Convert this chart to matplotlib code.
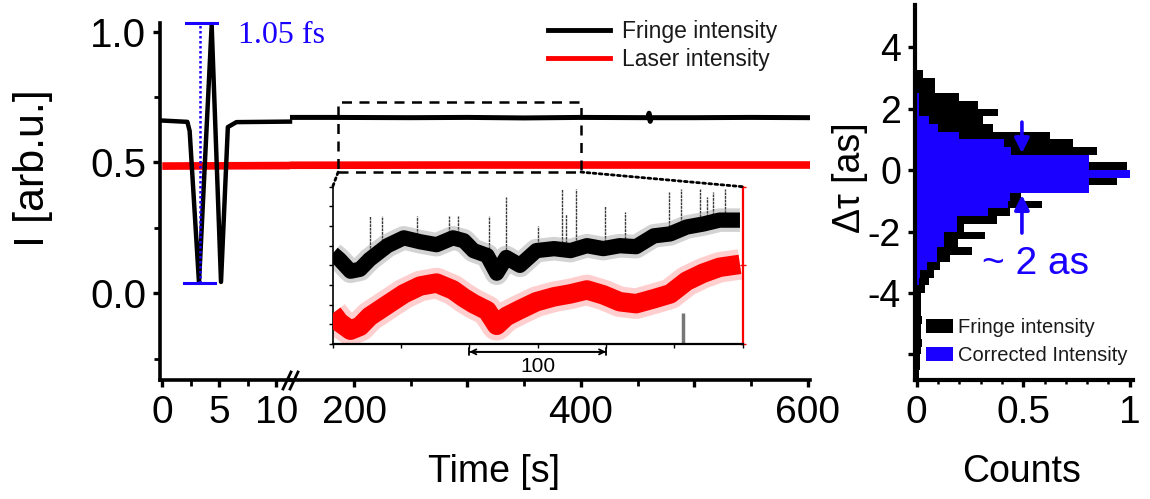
import numpy as np
import matplotlib
matplotlib.use("Agg")
import matplotlib.pyplot as plt
from matplotlib.patches import ConnectionPatch, Rectangle, Patch
from matplotlib.lines import Line2D

plt.rcParams['font.family'] = ['Liberation Sans', 'DejaVu Sans']

# ---------------- data ----------------
# main panel, first (short) time segment [s]
fringe_t_short = [0, 2.2, 2.4, 3.22, 4.33, 5.15, 5.75, 6.5, 11.2]
fringe_v_short = [0.66, 0.655, 0.62, 0.04, 1.025, 0.043, 0.635, 0.654, 0.656]
laser_t_short = [0, 11.2]
laser_v_short = [0.486, 0.488]
# main panel, second (long) time segment [s]
fringe_t_long = [143, 180, 250, 300, 350, 400, 459, 460, 461, 462, 500, 550, 602]
fringe_v_long = [0.672, 0.672, 0.671, 0.672, 0.670, 0.672, 0.671, 0.688, 0.657, 0.671, 0.671, 0.672, 0.671]
laser_t_long = [143, 300, 450, 602]
laser_v_long = [0.489, 0.49, 0.49, 0.49]

# inset (zoom of 180-400 s region)
inset_t = [0, 5, 13, 20, 27, 40, 52, 64, 76, 88, 96, 103, 113, 120, 127, 137, 149,
           162, 174, 186, 198, 210, 222, 235, 247, 259, 271, 283, 298]
inset_fringe = [4.6, 4.3, 3.7, 3.8, 4.3, 5.0, 5.4, 5.2, 5.05, 5.4, 5.25, 4.75, 4.5, 3.6,
                4.4, 4.0, 4.75, 4.85, 4.75, 5.0, 4.85, 5.0, 4.95, 5.5, 5.6, 5.95, 6.1, 6.3, 6.3]
inset_laser = [1.56, 1.1, 0.7, 0.9, 1.4, 2.0, 2.55, 2.95, 3.1, 2.75, 2.35, 2.05, 1.7, 0.95,
               1.4, 1.75, 2.15, 2.4, 2.55, 2.75, 2.5, 2.15, 2.05, 2.3, 2.55, 3.2, 3.6, 3.9, 4.05]
spike_t = [27, 36, 62, 85, 92, 114, 127, 150, 168, 171, 178, 199, 214, 246, 255, 269, 274, 278, 287]
spike_top = [6.5, 6.5, 6.5, 6.5, 6.5, 6.5, 7.5, 6.0, 7.9, 6.6, 7.9, 7.0, 6.7, 7.75, 7.9, 7.9, 7.5, 7.75, 7.9]
spike_base = [4.3, 4.5, 5.2, 5.3, 5.3, 4.5, 4.4, 4.7, 4.8, 4.8, 4.75, 4.85, 5.0, 5.6, 5.8, 6.1, 6.1, 6.2, 6.3]

# histogram (bin lower edges in as, width 0.25)
bin_lower = [3.0, 2.75, 2.5, 2.25, 2.0, 1.75, 1.5, 1.25, 1.0, 0.75, 0.5, 0.25, 0.0,
             -0.25, -0.5, -0.75, -1.0, -1.25, -1.5, -1.75, -2.0, -2.25, -2.5, -2.75,
             -3.0, -3.25, -3.5, -3.75, -4.0, -4.25, -4.5, -4.75, -5.0, -5.25, -5.5,
             -5.75, -6.0, -6.25, -6.5, -6.75]
fringe_counts = [0.03, 0.085, 0.085, 0.20, 0.29, 0.38, 0.31, 0.36, 0.625, 0.735, 0.845,
                 0.80, 0.985, 0.97, 0.94, 0.81, 0.49, 0.59, 0.44, 0.375, 0.22, 0.32,
                 0.195, 0.26, 0.156, 0.11, 0.08, 0.06, 0.04, 0.02, 0.02, 0.02, 0.025,
                 0.02, 0.02, 0.025, 0.02, 0.015, 0.015, 0.01]
corrected_counts = [0, 0, 0, 0.01, 0.01, 0.01, 0.06, 0.10, 0.20, 0.41, 0.445, 0.81, 0.81,
                    1.0, 0.81, 0.81, 0.44, 0.43, 0.335, 0.19, 0.19, 0.13, 0.13, 0.094,
                    0.094, 0.047, 0.016, 0.01, 0, 0, 0, 0, 0, 0, 0, 0, 0, 0, 0, 0]

# ---------------- styling ----------------
W, H = 1150, 499
def fx(px): return px / W
def fy(py): return 1 - py / H

BLUE = '#1a00ff'
RED = '#ff0000'
fig = plt.figure(figsize=(11.5, 4.99), dpi=100)

ylo, yhi = -0.332, 1.033
ax1 = fig.add_axes([fx(160), fy(380), fx(290) - fx(160), fy(23) - fy(380)])
ax2 = fig.add_axes([fx(290), fy(380), fx(810) - fx(290), fy(23) - fy(380)])
for a in (ax1, ax2):
    a.set_ylim(ylo, yhi)
    a.set_facecolor('none')
    for s in ('top', 'right'):
        a.spines[s].set_visible(False)
    a.spines['bottom'].set_linewidth(2.6)
    a.spines['left'].set_linewidth(2.6)
    a.tick_params(which='major', direction='out', length=5, width=2.4, labelsize=28, pad=6)
    a.tick_params(which='minor', direction='out', length=4, width=2.0)
ax1.set_xlim(-0.2, 11.2)
ax2.set_xlim(143.6, 601.8)
ax2.spines['left'].set_visible(False)
ax2.tick_params(axis='y', which='both', left=False, labelleft=False)

ax1.set_xticks([0, 5, 10])
ax1.set_xticklabels(['0', '5', '10'])
ax1.set_xticks([2.5, 7.5], minor=True)
ax1.set_yticks([0, 0.5, 1.0])
ax1.set_yticklabels(['0.0', '0.5', '1.0'])
ax1.set_yticks([-0.25, 0.25, 0.75], minor=True)
ax1.tick_params(axis='y', labelsize=29, pad=5)
ax2.set_xticks([200, 300, 400, 500, 600])
ax2.set_xticklabels(['200', '', '400', '', '600'])
ax2.set_xticks([250, 350, 450, 550], minor=True)

# traces
ax1.plot(laser_t_short, laser_v_short, color=RED, lw=5.5, solid_capstyle='butt', clip_on=False)
ax1.plot(fringe_t_short, fringe_v_short, color='black', lw=3.2, clip_on=False)
ax2.plot(laser_t_long, laser_v_long, color=RED, lw=5.5, solid_capstyle='butt')
ax2.plot(fringe_t_long, fringe_v_long, color='black', lw=3.6)

# blue 1.05 fs marker
ax1.plot([2.1, 4.8], [1.033, 1.033], color=BLUE, lw=2.2, clip_on=False)
ax1.plot([1.87, 4.65], [0.04, 0.04], color=BLUE, lw=2.2, clip_on=False)
ax1.plot([3.27, 3.27], [0.04, 1.033], color=BLUE, lw=1.8, ls=(0, (1, 1)), clip_on=False)
ax1.text(6.6, 0.958, '1.05 fs', color=BLUE, fontsize=23, family='Liberation Serif',
         va='baseline', ha='left')

# axis break marks
for x0 in (283, 290):
    fig.add_artist(Line2D([fx(x0), fx(x0 + 8)], [fy(389), fy(372)],
                          transform=fig.transFigure, color='black', lw=2))

fig.text(fx(33), fy(168), 'I [arb.u.]', rotation=90, fontsize=31, ha='center', va='center')
fig.text(fx(494), fy(472), 'Time [s]', fontsize=27, ha='center', va='center')

# legend main
hl = [Line2D([], [], color='black', lw=3.5), Line2D([], [], color=RED, lw=3.5)]
leg = fig.legend(hl, ['Fringe intensity', 'Laser intensity'], loc='upper left',
                 bbox_to_anchor=(fx(548), fy(20)), frameon=False, fontsize=16.5,
                 handlelength=2.7, handletextpad=0.55, labelspacing=0.2,
                 borderpad=0, borderaxespad=0)
for t in leg.get_texts():
    t.set_color('#1a1a1a')

# dashed box
ax2.add_patch(Rectangle((186, 0.463), 214, 0.267, fill=False, ls=(0, (4, 3)),
                        lw=1.8, color='black', zorder=5))

# ---------------- inset ----------------
axi = fig.add_axes([fx(332.7), fy(344), fx(742.7) - fx(332.7), fy(186.7) - fy(344)])
axi.set_xlim(0, 300)
axi.set_ylim(0, 8)
axi.spines['top'].set_visible(False)
axi.spines['right'].set_visible(False)
axi.spines['left'].set_linewidth(1.2)
axi.spines['bottom'].set_linewidth(1.6)
axi.set_xticks(np.arange(0, 301, 50))
axi.set_yticks(np.arange(0, 9, 1))
axi.tick_params(axis='both', direction='out', length=3, width=1, labelbottom=False,
                labelleft=False)
axr = axi.secondary_yaxis('right')
axr.set_yticks([0, 4, 8])
axr.tick_params(direction='inout', length=5, width=1, colors=RED, labelright=False)
axr.spines['right'].set_color(RED)
axr.spines['right'].set_linewidth(1.6)

axi.vlines(spike_t, spike_base, spike_top, color='#3a3a3a', lw=1.0, ls=(0, (2, 0.6)), zorder=1)
axi.vlines([256.5], [0], [1.6], color='#777777', lw=2.5, zorder=1)
axi.plot(inset_t, inset_fringe, color='#707070', lw=17, alpha=0.3, zorder=2,
         solid_capstyle='butt')
axi.plot(inset_t, inset_fringe, color='black', lw=11, zorder=3, solid_capstyle='butt')
axi.plot(inset_t, inset_laser, color='#ff6060', lw=22, alpha=0.3, zorder=2,
         solid_capstyle='butt')
axi.plot(inset_t, inset_laser, color=RED, lw=14, zorder=3, solid_capstyle='butt')

axi.annotate('', xy=(100, -0.4), xytext=(200, -0.4), xycoords='data',
             arrowprops=dict(arrowstyle='<->', lw=1.3, color='black', shrinkA=0, shrinkB=0,
                             mutation_scale=9),
             annotation_clip=False)
axi.annotate('', xy=(100, -0.4), xytext=(200, -0.4), xycoords='data',
             arrowprops=dict(arrowstyle='|-|,widthA=0.25,widthB=0.25', lw=1.3, color='black',
                             shrinkA=0, shrinkB=0),
             annotation_clip=False)
axi.text(150, -1.15, '100', fontsize=15, ha='center', va='center')

for xa, xb in ((186, 0.0), (400, 1.0)):
    cp = ConnectionPatch(xyA=(xa, 0.463), coordsA=ax2.transData,
                         xyB=(xb, 1.0), coordsB=axi.transAxes,
                         ls=(0, (1, 1.2)), lw=2, color='black')
    fig.add_artist(cp)

# ---------------- histogram ----------------
ax3 = fig.add_axes([fx(915), fy(380), fx(1133) - fx(915), fy(5) - fy(380)])
ax3.set_xlim(-0.008, 1.0155)
ax3.set_ylim(-6.83, 5.37)
for s in ('top', 'right'):
    ax3.spines[s].set_visible(False)
ax3.spines['left'].set_linewidth(3)
ax3.spines['bottom'].set_linewidth(3)
ax3.barh(bin_lower, fringe_counts, height=0.25, align='edge', color='black', lw=0)
ax3.barh(bin_lower, corrected_counts, height=0.25, align='edge', color=BLUE, lw=0)
ax3.set_xticks([0, 0.5, 1])
ax3.set_xticklabels(['0', '0.5', '1'])
ax3.set_xticks(np.arange(0.1, 1.0, 0.1), minor=True)
ax3.set_yticks([-6, -4, -2, 0, 2, 4])
ax3.set_yticklabels(['', '-4', '-2', '0', '2', '4'])
ax3.tick_params(which='major', direction='out', length=5, width=2.4, labelsize=28, pad=6)
ax3.tick_params(which='minor', direction='out', length=3, width=1.8)
ax3.tick_params(axis='y', labelsize=27, pad=5)

ax3.annotate('', xy=(0.494, 0.55), xytext=(0.494, 1.56),
             arrowprops=dict(arrowstyle='-|>', lw=2.6, color=BLUE, mutation_scale=22,
                             shrinkA=0, shrinkB=0))
ax3.annotate('', xy=(0.494, -0.81), xytext=(0.494, -2.05),
             arrowprops=dict(arrowstyle='-|>', lw=2.6, color=BLUE, mutation_scale=22,
                             shrinkA=0, shrinkB=0))
fig.text(fx(1035), fy(264), '~ 2 as', color=BLUE, fontsize=28, ha='center', va='center')

hl2 = [Patch(facecolor='black'), Patch(facecolor=BLUE)]
leg2 = fig.legend(hl2, ['Fringe intensity', 'Corrected Intensity'], loc='upper left',
                  bbox_to_anchor=(fx(926), fy(318)), frameon=False, fontsize=14.5,
                  handlelength=1.35, handleheight=0.65, handletextpad=0.25,
                  labelspacing=0.45, borderpad=0, borderaxespad=0)
for t in leg2.get_texts():
    t.set_color('#1a1a1a')

fig.text(fx(850), fy(178), 'Δτ [as]', rotation=90, fontsize=27, ha='center', va='center')
fig.text(fx(1022), fy(472), 'Counts', fontsize=27, ha='center', va='center')

fig.savefig('out.png', dpi=100)
